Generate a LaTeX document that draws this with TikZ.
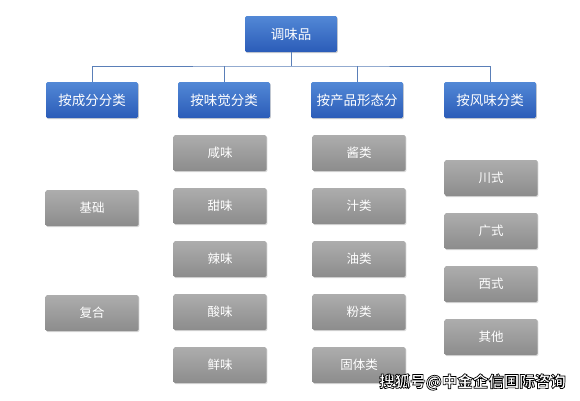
\documentclass[tikz,border=0pt]{standalone}
\usepackage{fontspec}
\newfontfamily\cjk{Noto Sans CJK SC}
\usetikzlibrary{shadows}
\definecolor{btop}{HTML}{5288D6}
\definecolor{bbot}{HTML}{2B5CB8}
\definecolor{gtop}{HTML}{ADADAD}
\definecolor{gbot}{HTML}{8C8C8C}
\definecolor{lineblue}{HTML}{5A7FB8}
\tikzset{
  bluebox/.style={rounded corners=1.5pt, top color=btop, bottom color=bbot, draw=none,
    text=white, font=\cjk\fontsize{13.5}{15}\selectfont, minimum width=92pt, minimum height=36pt,
    inner sep=0pt, drop shadow={shadow xshift=0.8pt, shadow yshift=-1.2pt, opacity=0.35}},
  graybox/.style={rounded corners=1.5pt, top color=gtop, bottom color=gbot, draw=none,
    text=white, font=\cjk\fontsize{12.5}{14}\selectfont, minimum width=93pt, minimum height=36pt,
    inner sep=0pt, drop shadow={shadow xshift=0.8pt, shadow yshift=-1.2pt, opacity=0.3}},
  conn/.style={draw=lineblue, line width=0.8pt},
}
\begin{document}
\begin{tikzpicture}[x=1pt,y=-1pt]
\path[use as bounding box, fill=white] (0,0) rectangle (580,400);
% top
\node[bluebox] (root) at (291,34) {调味品};
% level 2
\node[bluebox] (c1) at (92,100) {按成分分类};
\node[bluebox] (c2) at (224,100) {按味觉分类};
\node[bluebox] (c3) at (357,100) {按产品形态分};
\node[bluebox] (c4) at (490,100) {按风味分类};
% connectors
\coordinate (j) at (291,66);
\draw[conn] (root.south) -- (j);
\draw[conn] (c1.north) |- (j) -| (c4.north);
\draw[conn] (c2.north) -- (c2.north |- j);
\draw[conn] (c3.north) -- (c3.north |- j);
% column 1
\node[graybox] (a1) at (92,208) {基础};
\node[graybox] (a2) at (92,313) {复合};
% column 2
\node[graybox] (b1) at (220,153) {咸味};
\node[graybox] (b2) at (220,206) {甜味};
\node[graybox] (b3) at (220,259) {辣味};
\node[graybox] (b4) at (220,312) {酸味};
\node[graybox] (b5) at (220,365) {鲜味};
% column 3
\node[graybox] (d1) at (359,153) {酱类};
\node[graybox] (d2) at (359,206) {汁类};
\node[graybox] (d3) at (359,259) {油类};
\node[graybox] (d4) at (359,312) {粉类};
\node[graybox] (d5) at (359,365) {固体类};
% column 4
\node[graybox] (e1) at (491,178) {川式};
\node[graybox] (e2) at (491,231) {广式};
\node[graybox] (e3) at (491,284) {西式};
\node[graybox] (e4) at (491,337) {其他};
% watermark
\node[font=\cjk\bfseries\fontsize{15.5}{17}\selectfont, text=white, inner sep=0pt] (wm0) at (472.5,382) {\special{pdf:literal direct 2 Tr 0.7 w 0 0 0 RG}搜狐号@中金企信国际咨询\special{pdf:literal direct 0 Tr}};
\end{tikzpicture}
\end{document}
